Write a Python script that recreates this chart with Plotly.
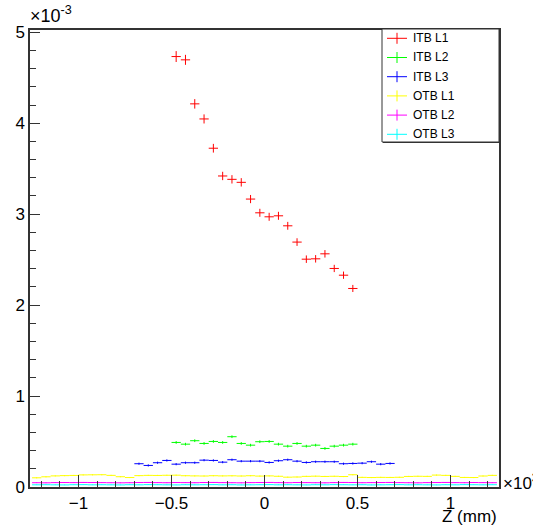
import plotly.graph_objects as go

# ---------------- data (Z in units of 10^3 mm, values in units of 10^-3) -------------
BIN_HALF = 0.025

itb_z = [-0.475, -0.425, -0.375, -0.325, -0.275, -0.225, -0.175, -0.125, -0.075, -0.025,
         0.025, 0.075, 0.125, 0.175, 0.225, 0.275, 0.325, 0.375, 0.425, 0.475]

itb3_z = [-0.675, -0.625, -0.575, -0.525, -0.475, -0.425, -0.375, -0.325, -0.275, -0.225,
          -0.175, -0.125, -0.075, -0.025, 0.025, 0.075, 0.125, 0.175, 0.225, 0.275,
          0.325, 0.375, 0.425, 0.475, 0.525, 0.575, 0.625, 0.675]

otb_z = [-1.225, -1.175, -1.125, -1.075, -1.025, -0.975, -0.925, -0.875, -0.825, -0.775,
         -0.725, -0.675, -0.625, -0.575, -0.525, -0.475, -0.425, -0.375, -0.325, -0.275,
         -0.225, -0.175, -0.125, -0.075, -0.025, 0.025, 0.075, 0.125, 0.175, 0.225,
         0.275, 0.325, 0.375, 0.425, 0.475, 0.525, 0.575, 0.625, 0.675, 0.725,
         0.775, 0.825, 0.875, 0.925, 0.975, 1.025, 1.075, 1.125, 1.175, 1.225]

itb_l1 = [4.733, 4.697, 4.213, 4.047, 3.725, 3.420, 3.383, 3.350, 3.166, 3.015,
          2.971, 2.982, 2.872, 2.693, 2.505, 2.509, 2.564, 2.403, 2.329, 2.183]
itb_l1_err = [0.060, 0.055, 0.052, 0.050, 0.048, 0.046, 0.046, 0.046, 0.045, 0.044,
              0.044, 0.044, 0.043, 0.042, 0.041, 0.041, 0.041, 0.040, 0.040, 0.039]

itb_l2 = [0.490, 0.471, 0.509, 0.479, 0.501, 0.490, 0.553, 0.479, 0.460, 0.498,
          0.501, 0.471, 0.449, 0.479, 0.449, 0.460, 0.424, 0.449, 0.460, 0.471]
itb_l2_err = [0.015] * 20

itb_l3 = [0.256, 0.237, 0.267, 0.292, 0.251, 0.267, 0.267, 0.295, 0.292, 0.273,
          0.300, 0.284, 0.284, 0.284, 0.270, 0.289, 0.300, 0.284, 0.270, 0.278,
          0.278, 0.278, 0.256, 0.259, 0.262, 0.278, 0.251, 0.259]
itb_l3_err = [0.012] * 28

otb_l1 = [0.101, 0.112, 0.122, 0.125, 0.127, 0.133, 0.134, 0.135, 0.128, 0.113,
          0.104, 0.125, 0.128, 0.127, 0.129, 0.130, 0.124, 0.122, 0.121, 0.124,
          0.122, 0.123, 0.121, 0.124, 0.120, 0.122, 0.118, 0.108, 0.110, 0.117,
          0.119, 0.116, 0.118, 0.115, 0.135, 0.106, 0.104, 0.106, 0.105, 0.107,
          0.116, 0.118, 0.117, 0.131, 0.128, 0.117, 0.105, 0.104, 0.121, 0.128]
otb_l1_err = [0.006] * 50

otb_l2 = [0.047, 0.046, 0.048, 0.049, 0.048, 0.050, 0.049, 0.048, 0.047, 0.046,
          0.047, 0.049, 0.050, 0.048, 0.047, 0.049, 0.048, 0.047, 0.049, 0.050,
          0.048, 0.047, 0.046, 0.048, 0.049, 0.050, 0.048, 0.047, 0.049, 0.048,
          0.047, 0.046, 0.048, 0.050, 0.049, 0.047, 0.048, 0.049, 0.050, 0.048,
          0.047, 0.046, 0.048, 0.049, 0.050, 0.048, 0.047, 0.049, 0.048, 0.047]
otb_l2_err = [0.004] * 50

otb_l3 = [0.024, 0.025, 0.024, 0.023, 0.025, 0.026, 0.024, 0.025, 0.024, 0.023,
          0.025, 0.024, 0.026, 0.025, 0.024, 0.023, 0.025, 0.024, 0.025, 0.026,
          0.024, 0.025, 0.023, 0.024, 0.025, 0.026, 0.024, 0.025, 0.024, 0.023,
          0.025, 0.024, 0.026, 0.025, 0.024, 0.025, 0.023, 0.024, 0.025, 0.026,
          0.024, 0.025, 0.024, 0.023, 0.025, 0.024, 0.026, 0.025, 0.024, 0.025]
otb_l3_err = [0.003] * 50

series = [
    ("ITB L1", itb_z, itb_l1, itb_l1_err, "#ff0000"),
    ("ITB L2", itb_z, itb_l2, itb_l2_err, "#00ff00"),
    ("ITB L3", itb3_z, itb_l3, itb_l3_err, "#0000ff"),
    ("OTB L1", otb_z, otb_l1, otb_l1_err, "#ffff00"),
    ("OTB L2", otb_z, otb_l2, otb_l2_err, "#ff00ff"),
    ("OTB L3", otb_z, otb_l3, otb_l3_err, "#00ffff"),
]

x_ticks = [-1, -0.5, 0, 0.5, 1]
y_ticks = [0, 1, 2, 3, 4, 5]

# ---------------- layout geometry (pixels) ----------------
W, H = 533, 528
L, R, T, B = 30, 34, 30, 41
PW = W - L - R
PH = H - T - B
FONT = "Liberation Sans, Arial, Helvetica, sans-serif"
AXC = "#333333"


def px(xp):
    return (xp - L) / PW


def py(yp):
    return (H - B - yp) / PH


fig = go.Figure()
for name, z, v, e, c in series:
    fig.add_trace(go.Scatter(
        x=z, y=v, mode="markers", name=name, showlegend=False,
        marker=dict(size=2, color=c, opacity=0),
        error_x=dict(type="constant", value=BIN_HALF, width=0, color=c, thickness=1),
        error_y=dict(type="data", array=e, width=0, color=c, thickness=1),
    ))

fig.update_layout(
    width=W, height=H,
    margin=dict(l=L, r=R, t=T, b=B, pad=0),
    paper_bgcolor="white", plot_bgcolor="white",
    font=dict(family=FONT, size=17, color="black"),
    xaxis=dict(range=[-1.261, 1.261], tickvals=x_ticks, ticks="inside", ticklen=12,
               tickwidth=1, tickcolor=AXC, showline=True, linecolor=AXC,
               linewidth=1.5, mirror=True, showgrid=False, zeroline=False,
               tickfont=dict(size=17),
               minor=dict(dtick=0.1, tick0=0, ticks="inside", ticklen=6,
                          tickcolor=AXC, tickwidth=1, showgrid=False)),
    yaxis=dict(range=[0, 5.025], tickvals=y_ticks, ticks="inside", ticklen=10,
               tickwidth=1, tickcolor=AXC, showline=True, linecolor=AXC,
               linewidth=1.5, mirror=True, showgrid=False, zeroline=False,
               tickfont=dict(size=17),
               minor=dict(dtick=0.2, tick0=0, ticks="inside", ticklen=6,
                          tickcolor=AXC, tickwidth=1, showgrid=False)),
)

annotations = [
    dict(text="×10<sup>-3</sup>", xref="paper", yref="paper", x=px(28), y=py(28),
         xanchor="left", yanchor="bottom", showarrow=False, font=dict(size=18)),
    dict(text="×10<sup>3</sup>", xref="paper", yref="paper", x=px(501), y=py(482),
         xanchor="left", yanchor="middle", showarrow=False, font=dict(size=17)),
    dict(text="Z (mm)", xref="paper", yref="paper", x=1.0, y=py(516.5),
         xanchor="right", yanchor="middle", showarrow=False, font=dict(size=17)),
]

shapes = []
# legend box with thin shadow
bx0, bx1, by0, by1 = 382, 499, 29, 142
shapes.append(dict(type="rect", xref="paper", yref="paper", x0=px(bx0 + 1), x1=px(bx1 + 1),
                   y0=py(by0 + 1), y1=py(by1 + 1), fillcolor=AXC, line=dict(width=0),
                   layer="above"))
shapes.append(dict(type="rect", xref="paper", yref="paper", x0=px(bx0), x1=px(bx1),
                   y0=py(by0), y1=py(by1), fillcolor="white",
                   line=dict(color=AXC, width=1), layer="above"))
entry_y = [38.3, 57.5, 76.7, 95.9, 115.1, 134.3]
for (name, z, v, e, c), ey in zip(series, entry_y):
    shapes.append(dict(type="line", xref="paper", yref="paper", x0=px(387), x1=px(407),
                       y0=py(ey), y1=py(ey), line=dict(color=c, width=1), layer="above"))
    shapes.append(dict(type="line", xref="paper", yref="paper", x0=px(397), x1=px(397),
                       y0=py(ey - 5.5), y1=py(ey + 5.5), line=dict(color=c, width=1),
                       layer="above"))
    annotations.append(dict(text=name, xref="paper", yref="paper", x=px(411), y=py(ey),
                            xanchor="left", yanchor="middle", showarrow=False,
                            font=dict(size=12)))

fig.update_layout(annotations=annotations, shapes=shapes)
fig.write_html("out.html")
